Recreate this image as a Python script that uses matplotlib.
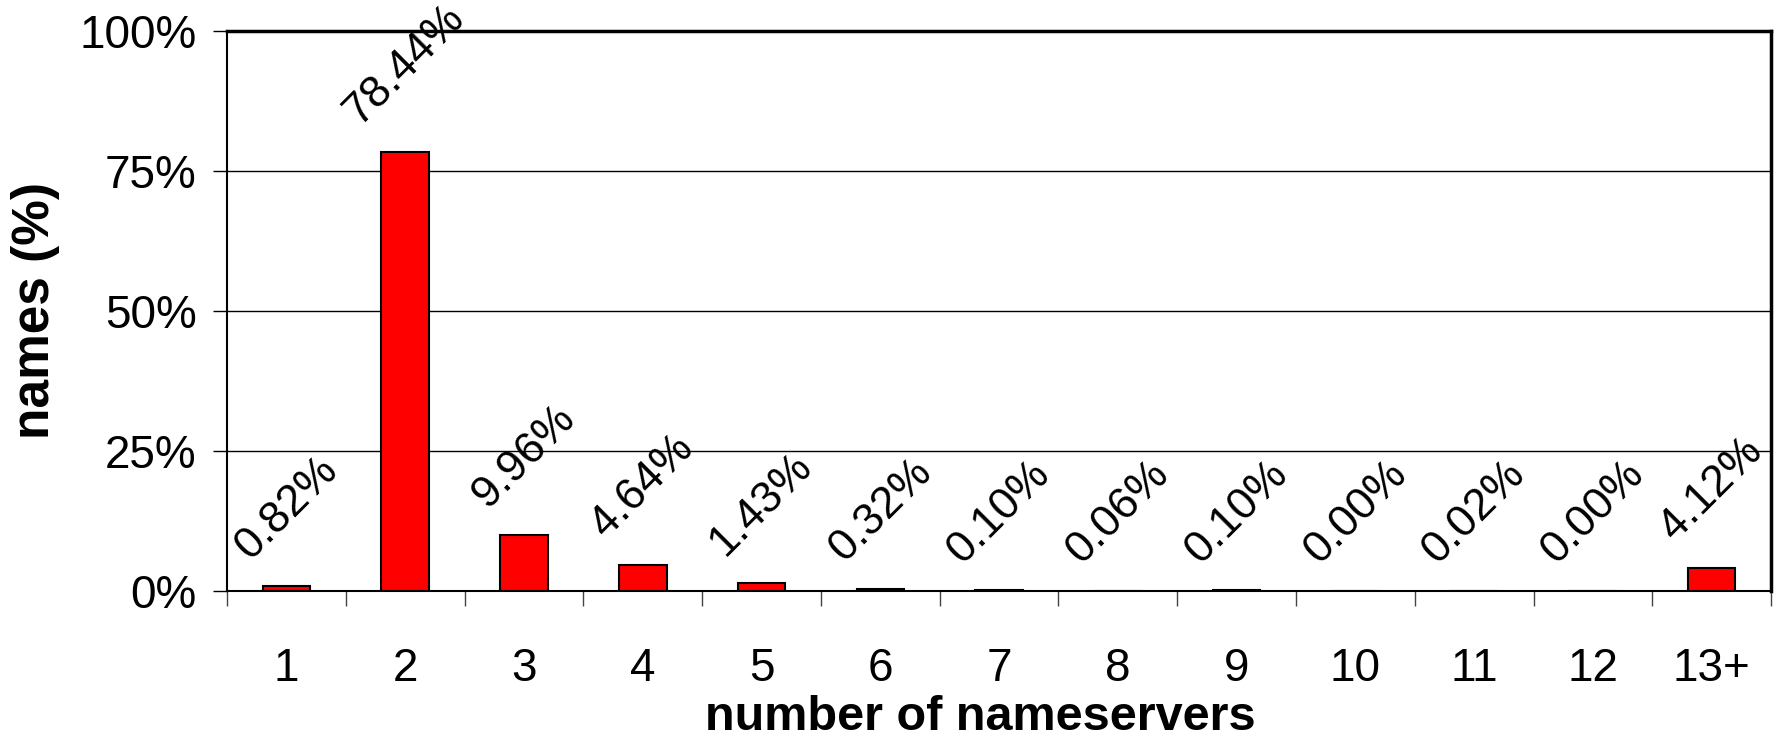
import numpy as np
import matplotlib.pyplot as plt
from matplotlib.ticker import FixedLocator, PercentFormatter

plt.rcParams['font.family'] = ['Liberation Sans', 'DejaVu Sans']

# share of names by number of nameservers
categories = ['1', '2', '3', '4', '5', '6', '7', '8', '9', '10', '11', '12', '13+']
shares = [0.82, 78.44, 9.96, 4.64, 1.43, 0.32, 0.10, 0.06, 0.10, 0.00, 0.02, 0.00, 4.12]
y_ticks = [0, 25, 50, 75, 100]

fig = plt.figure(figsize=(17.78, 7.38), dpi=100)
ax = fig.add_axes([0.1277, 0.1992, 0.8684, 0.7588])

x = np.arange(len(categories))
ax.bar(x, shares, width=0.4, color='#ff0000', edgecolor='black', linewidth=1.5, zorder=3)

for xi, v in zip(x, shares):
    ax.annotate(f'{v:.2f}%', (xi, v), xytext=(0, 14), textcoords='offset points',
                rotation=45, ha='center', va='bottom', fontsize=32)

ax.set_xlim(-0.5, len(categories) - 0.5)
ax.set_ylim(0, 100)
ax.set_yticks(y_ticks)
ax.yaxis.set_major_formatter(PercentFormatter(decimals=0))
ax.yaxis.grid(True, color='black', linewidth=1.0, zorder=0)

# labels sit at the centres, tick marks at the category boundaries
ax.set_xticks(x)
ax.set_xticklabels(categories)
ax.xaxis.set_minor_locator(FixedLocator(np.arange(-0.5, len(categories), 1.0)))
ax.tick_params(axis='x', which='major', length=0, pad=40, labelsize=33)
ax.tick_params(axis='x', which='minor', length=11, width=1.0, color='#444444')
ax.tick_params(axis='y', which='major', length=10, width=1.0, labelsize=33, pad=12)

for side in ['left', 'bottom']:
    ax.spines[side].set_linewidth(1.5)
for side in ['top', 'right']:
    ax.spines[side].set_linewidth(2.5)

ax.set_xlabel('number of nameservers', fontsize=35, fontweight='bold')
ax.xaxis.set_label_coords(0.488, -0.185)
ax.set_ylabel('names (%)', fontsize=37, fontweight='bold', labelpad=14)

fig.savefig('out.png', dpi=100)
